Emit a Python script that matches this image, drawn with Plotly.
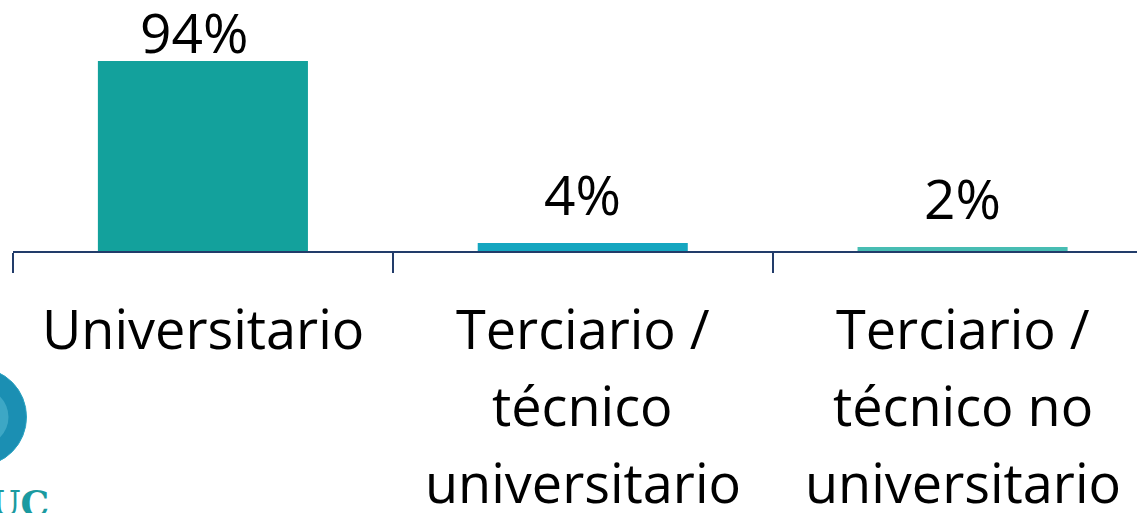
import plotly.graph_objects as go

categories = ["Universitario", "Terciario / técnico universitario", "Terciario / técnico no universitario"]
category_lines = [["Universitario"], ["Terciario /", "técnico", "universitario"], ["Terciario /", "técnico no", "universitario"]]
values = [94, 4, 2]
labels = ["94%", "4%", "2%"]
bar_colors = ["#13a19c", "#15a6c0", "#47bdb3"]

W, H = 1137, 513
L, B = 12.5, 262
plot_w, plot_h = W - L, H - B
FONT = "Open Sans"
label_dy = [-10, 10, 10]  # px above bar top (tallest label sits tight under the top edge)
label_dx = [-9, 0, 0]


def px_x(x):
    return (x - L) / plot_w


def px_y(y):
    return (plot_h - y) / plot_h


fig = go.Figure(go.Bar(
    x=categories,
    y=values,
    marker=dict(color=bar_colors, line_width=0),
    width=0.553,
    cliponaxis=False,
))

# value labels
for cat, val, lab, dx, dy in zip(categories, values, labels, label_dx, label_dy):
    fig.add_annotation(x=cat, y=val, text=lab, showarrow=False, yanchor="bottom",
                       xshift=dx, yshift=dy, font=dict(family=FONT, size=55, color="#000000"))

# category labels, one annotation per line (wider line spacing than tick labels)
line_mid = [328, 405, 482]
for cat, lines in zip(categories, category_lines):
    for i, txt in enumerate(lines):
        fig.add_annotation(x=cat, xref="x", yref="paper", y=px_y(line_mid[i]),
                           text=txt, showarrow=False, yanchor="middle",
                           font=dict(family=FONT, size=54, color="#000000"))

# logo (partly cut off at the left edge)
fig.add_shape(type="circle", xref="paper", yref="paper",
              x0=px_x(-71), x1=px_x(26), y0=px_y(466), y1=px_y(368),
              fillcolor="#1b8fb3", line=dict(color="#2aa3c2", width=1), layer="above")
fig.add_shape(type="circle", xref="paper", yref="paper",
              x0=px_x(-50), x1=px_x(8), y0=px_y(446), y1=px_y(388),
              fillcolor="#5fbfd8", line_width=0, layer="above", opacity=0.5)
fig.add_annotation(xref="paper", yref="paper", x=px_x(-14), y=px_y(480),
                   text="<b>UC</b>", showarrow=False, xanchor="left", yanchor="top",
                   font=dict(family="DejaVu Serif", size=36, color="#1a9aa0"))

fig.update_layout(
    width=W, height=H,
    margin=dict(l=L, r=0, t=0, b=B),
    paper_bgcolor="white",
    plot_bgcolor="white",
    font=dict(family=FONT, color="#000000", size=54),
    showlegend=False,
    xaxis=dict(
        range=[-0.5, -0.5 + plot_w / 380],
        showline=True, linecolor="#223c6a", linewidth=2,
        ticks="outside", tickson="boundaries", ticklen=20, tickwidth=2, tickcolor="#223c6a",
        showticklabels=False,
        showgrid=False,
    ),
    yaxis=dict(range=[0, plot_h / 2.021], visible=False, showgrid=False, zeroline=False),
)

fig.write_html("out.html", config={"displayModeBar": False},
               post_script="document.body.style.margin='0';document.body.style.padding='0';")
